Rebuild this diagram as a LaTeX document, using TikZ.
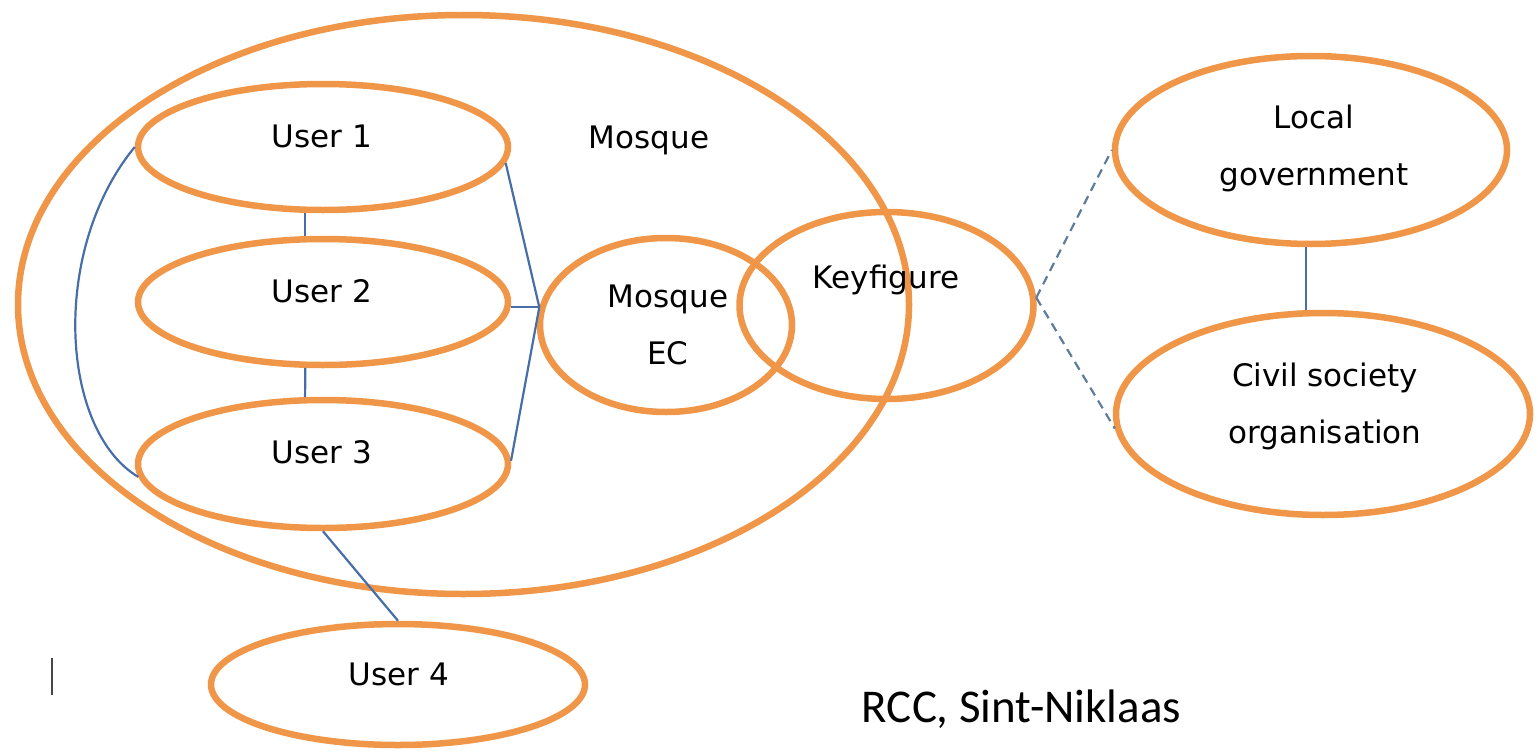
\documentclass[tikz,border=0pt]{standalone}
\usepackage{fontspec}
\newfontfamily\labelfont{DejaVu Sans}
\newfontfamily\notefont{Carlito}
\usetikzlibrary{shapes.geometric}
\definecolor{ringorange}{RGB}{240,150,72}
\definecolor{linkblue}{RGB}{72,110,168}
\definecolor{dashblue}{RGB}{95,125,155}
\definecolor{cursorgrey}{RGB}{70,70,70}
\begin{document}
\begin{tikzpicture}[x=1pt,y=-1pt,
  ring/.style={draw=ringorange, line width=6.5pt, ellipse, inner sep=0pt},
  txt/.style={font=\labelfont\fontsize{31}{57}\selectfont, anchor=base, align=center, inner sep=0pt, text=black},
  link/.style={draw=linkblue, line width=2.2pt},
  weaklink/.style={draw=dashblue, line width=2.2pt, dash pattern=on 9pt off 6pt},
]
\useasboundingbox (0,0) rectangle (1538,752);

% rings
\node[ring, minimum width=891pt, minimum height=579pt] (mosque) at (463.5,304.5) {};
\node[ring, minimum width=370pt, minimum height=126pt] (u1) at (323,147) {};
\node[ring, minimum width=370pt, minimum height=126pt] (u2) at (323,302) {};
\node[ring, minimum width=370pt, minimum height=128pt] (u3) at (323,464) {};
\node[ring, minimum width=374pt, minimum height=121pt] (u4) at (398,684.5) {};
\node[ring, minimum width=252pt, minimum height=174pt] (ec) at (666,325) {};
\node[ring, minimum width=294pt, minimum height=187pt] (kf) at (886.5,305.5) {};
\node[ring, minimum width=392pt, minimum height=188pt] (lg) at (1311,150) {};
\node[ring, minimum width=414pt, minimum height=202pt] (cso) at (1323,414) {};

% labels (multi-line labels are placed by the baseline of their last line)
\node[txt] (mosquelabel) at (649,148) {Mosque};
\node[txt] (u1label) at (322,147) {User 1};
\node[txt] (u2label) at (322,302) {User 2};
\node[txt] (u3label) at (322,463) {User 3};
\node[txt] (u4label) at (399,685) {User 4};
\node[txt] (eclabel) at (668,364) {Mosque\\EC};
\node[txt] (kflabel) at (886,288) {Keyfigure};
\node[txt] (lglabel) at (1314,185) {Local\\government};
\node[txt] (csolabel) at (1325,443) {Civil society\\organisation};
\node[font=\notefont\fontsize{47}{56}\selectfont, anchor=base, inner sep=0pt, text=black] (credit) at (1021.5,722) {RCC, Sint-Niklaas};

% links between users and the executive committee
\coordinate (hub) at (ec.172);
\draw[link] (u1.-105) -- (u2.105);
\draw[link] (u2.-105) -- (u3.105);
\draw[link] (u1.-5) -- (hub);
\draw[link] (u2.east |- hub) -- (hub);
\draw[link] (u3.1) -- (hub);
\draw[link] (u1.180) .. controls (50,250) and (60,430) .. (u3.184);
\draw[link] (u3.south) -- (u4.north);

% outside contacts of the key figure
\draw[weaklink] (kf.3) -- (lg.west);
\draw[weaklink] (kf.3) -- (cso.184);
\draw[link] (lg.-93) -- (lg.-93 |- cso.north);

% text cursor mark
\draw[cursorgrey, line width=1.5pt] (52,658) -- (52,695);
\end{tikzpicture}
\end{document}
